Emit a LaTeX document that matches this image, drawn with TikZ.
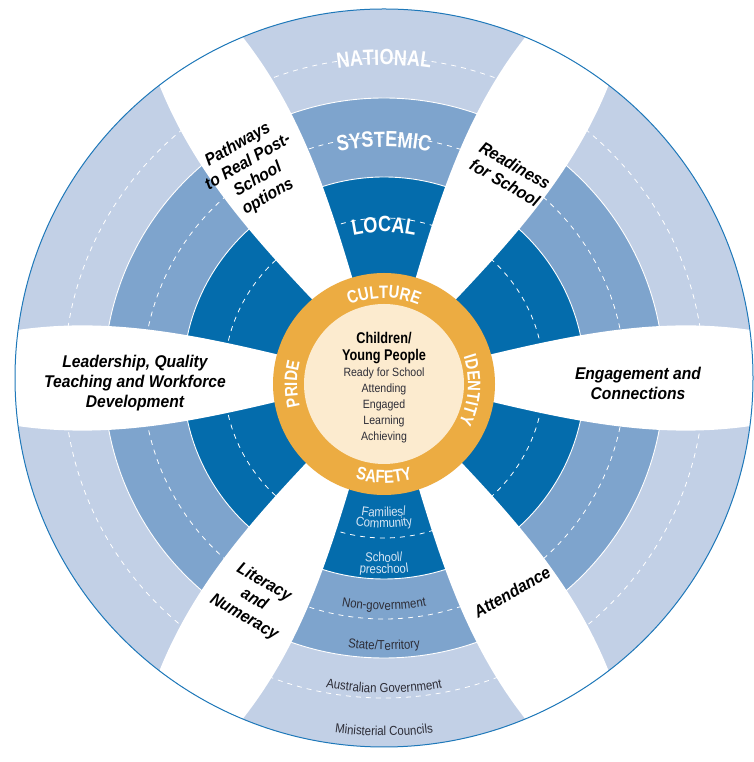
\documentclass[tikz,border=0pt]{standalone}
\usepackage{fontspec}
\setmainfont{Liberation Sans}
\newfontfamily\ringfont[FakeStretch=0.82]{Liberation Sans}
\newfontfamily\smallfont[FakeStretch=0.88]{Liberation Sans}
\newfontfamily\spokefont[FakeStretch=0.92]{Liberation Sans}
\usetikzlibrary{calc,decorations.text}
\definecolor{localblue}{RGB}{4,108,172}
\definecolor{systemblue}{RGB}{126,164,205}
\definecolor{nationblue}{RGB}{194,208,230}
\definecolor{rimblue}{RGB}{30,120,185}
\definecolor{ringorange}{RGB}{236,172,66}
\definecolor{corecream}{RGB}{252,235,207}
\definecolor{paletext}{RGB}{215,230,245}
\definecolor{greytext}{RGB}{45,45,55}
\def\arctext[#1](#2)(#3:#4:#5)#6{\path[decorate,decoration={text along path,text align=center,text={|#1|#6}}] ($(#2)+(#3:#5)$) arc (#3:#4:#5);}
\def\bigring{\ringfont\bfseries\fontsize{22}{22}\selectfont\color{white}}
\def\coreword{\ringfont\bfseries\fontsize{18}{18}\selectfont\color{white}}
\def\palelabel{\smallfont\fontsize{13}{13}\selectfont\color{paletext}}
\def\greylabel{\smallfont\fontsize{13}{13}\selectfont\color{greytext}}
\tikzset{
  spoke/.style={font=\spokefont\bfseries\itshape\fontsize{17}{20}\selectfont, align=center},
  dashring/.style={white, line width=0.8, dash pattern=on 5pt off 5pt},
  splitring/.style={white, line width=0.9}
}

\begin{document}
\begin{tikzpicture}[x=1pt,y=1pt]
		\useasboundingbox (0,0) rectangle (753,762);
		\coordinate (C) at (384,384);
		\coordinate (O) at (384,378);
		%%%%% RINGS %%%%%
		\fill[nationblue] (C) circle (369);
		\fill[systemblue] (C) circle (280);
		\fill[localblue] (C) circle (201);
		\draw[splitring] (C) circle (280);
		\draw[splitring] (C) circle (201);
		\foreach \r in {160,241,320}
			\draw[dashring] (C) circle (\r);
		
		%%%%% SPOKES %%%%%
		\begin{scope}
			\clip (C) circle (369);
			\foreach \a in {0,60,...,300}
				\fill[white, shift={(C)}, rotate=\a] (100,-22) .. controls (200,-46) and (290,-64) .. (390,-44) -- (390,44) .. controls (290,64) and (200,46) .. (100,22) -- cycle;
		\end{scope}
		\draw[rimblue, line width=1] (C) circle (369);
		
		%%%%% CORE %%%%%
		\fill[ringorange] (O) circle (111);
		\fill[corecream] (O) circle (80);
		
		\arctext[\bigring](C)(110:70:313){NATIONAL}
		\arctext[\bigring](C)(115:65:231){SYSTEMIC}
		\arctext[\bigring](C)(120:60:146){LOCAL}
		
		\arctext[\coreword](O)(125:55:86){CULTURE}
		\arctext[\coreword](O)(40:-48:84){IDENTITY}
		\arctext[\coreword](O)(225:315:99){SAFETY}
		\arctext[\coreword](O)(225:135:87){PRIDE}
		
		\arctext[\palelabel](C)(235:305:139){Families/}
		\arctext[\palelabel](C)(235:305:150){Community}
		\arctext[\palelabel](C)(240:300:184){School/}
		\arctext[\palelabel](C)(240:300:196){preschool}
		\arctext[\greylabel](C)(240:300:232){Non-government}
		\arctext[\greylabel](C)(240:300:272){State/Territory}
		\arctext[\greylabel](C)(240:300:315){Australian Government}
		\arctext[\greylabel](C)(245:295:358){Ministerial Councils}
		
		\node[font=\ringfont\bfseries\fontsize{15.5}{17.5}\selectfont, align=center] (kids) at (384,414) {Children/\\Young People};
		\node[font=\smallfont\fontsize{12}{16}\selectfont, text=greytext, align=center] (aims) at (384,357) {Ready for School\\Attending\\Engaged\\Learning\\Achieving};
		
		\node[spoke, rotate=30] (pathways) at (253,591) {Pathways\\to Real Post-\\School\\options};
		\node[spoke, rotate=-30] (readiness) at (510,588) {Readiness\\for School};
		\node[spoke] (engagement) at (638,379) {Engagement and\\Connections};
		\node[spoke, rotate=30] (attendance) at (512,170) {Attendance};
		\node[spoke, rotate=-30] (literacy) at (254,162) {Literacy\\and\\Numeracy};
		\node[spoke] (leadership) at (135,379) {Leadership, Quality\\Teaching and Workforce\\Development};
	\end{tikzpicture}
\end{document}
